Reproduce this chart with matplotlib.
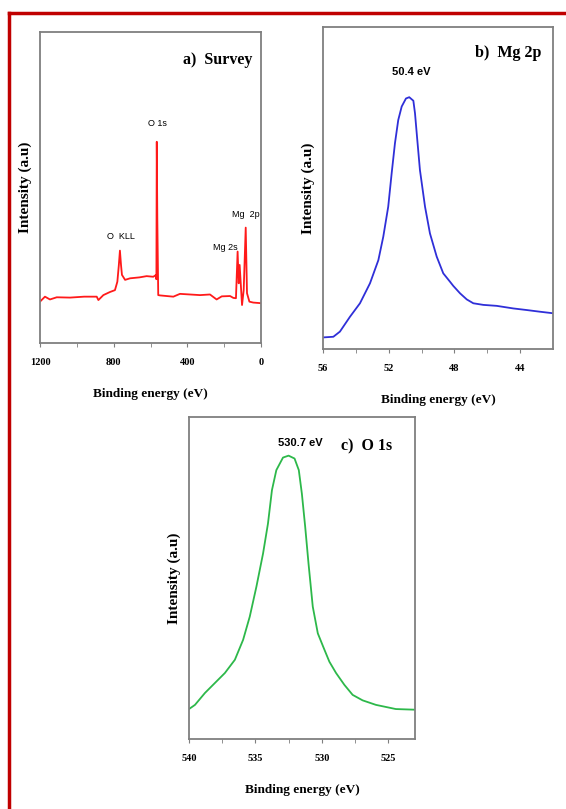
import numpy as np
import matplotlib
matplotlib.use("Agg")
import matplotlib.pyplot as plt
from matplotlib.lines import Line2D

# Survey spectrum (binding energy eV, intensity a.u.)
survey_be = [1200, 1173, 1146, 1109, 1037, 960, 892, 883, 856, 820, 793, 780,
             772, 766, 760, 755, 738, 711, 660, 621, 585, 572, 568, 566, 563,
             558, 548, 512, 476, 440, 331, 277, 241, 213, 168, 150, 136, 127,
             121, 116, 110, 103, 94, 83, 76, 63, 42, 0]
survey_int = [13.3, 14.9, 14.0, 14.7, 14.6, 14.9, 14.9, 13.8, 15.4, 16.4, 17.0, 19.7,
              25.0, 29.7, 25.0, 21.9, 20.3, 20.8, 21.1, 21.5, 21.3, 21.8, 20.5, 64.7, 40.0,
              15.4, 15.3, 15.1, 14.9, 15.8, 15.4, 15.6, 14.0, 15.0, 15.1, 14.5, 14.4, 29.4,
              19.2, 25.1, 19.2, 12.2, 17.0, 37.1, 16.0, 13.3, 13.0, 12.8]

# Mg 2p region
mg_be = [55.98, 55.37, 54.97, 54.36, 53.75, 53.14, 52.63, 52.33, 52.03, 51.82,
         51.62, 51.42, 51.21, 50.95, 50.75, 50.5, 50.4, 50.26, 50.1, 49.79, 49.49,
         49.08, 48.68, 48.27, 48.07, 47.66, 47.25, 46.85, 46.24, 45.43, 44.42,
         43.6, 42.83, 42.0]
mg_int = [3.6, 3.8, 5.4, 10.0, 14.2, 20.4, 27.6, 34.9, 44.2, 54.6,
          63.9, 71.1, 75.3, 77.8, 78.2, 77.1, 73.2, 64.9, 55.6, 44.2, 35.9,
          28.7, 23.5, 20.9, 19.6, 17.3, 15.4, 14.2, 13.7, 13.4, 12.6,
          12.1, 11.6, 11.1]

# O 1s region
o_be = [540.0, 539.55, 538.8, 538.05, 537.3, 536.55, 535.93, 535.43, 534.93,
        534.43, 534.06, 533.76, 533.43, 532.93, 532.51, 532.06, 531.74, 531.51,
        531.26, 531.01, 530.69, 530.31, 529.86, 529.44, 528.94, 528.31, 527.69,
        526.94, 525.94, 524.44, 523.0]
o_int = [9.3, 10.6, 14.3, 17.4, 20.5, 24.6, 30.8, 38.0, 47.3,
         57.6, 66.9, 77.3, 83.5, 87.4, 88.0, 87.1, 83.5, 76.2,
         65.9, 54.5, 41.1, 32.8, 28.2, 24.0, 20.5, 16.8, 13.7,
         12.0, 10.6, 9.3, 9.1]

serif = "Liberation Serif"
sans = "Liberation Sans"
spine_col = "#7f7f7f"

fig = plt.figure(figsize=(5.66, 8.09), dpi=100)

# red frame
fig.add_artist(Line2D([9 / 566, 1.0], [1 - 13 / 809] * 2, color="#c00000", lw=2.5))
fig.add_artist(Line2D([9 / 566] * 2, [0, 1 - 13 / 809], color="#c00000", lw=2.5))


def style(ax, xlim, major, minor):
    ax.set_xlim(*xlim)
    ax.set_ylim(0, 100)
    ax.set_yticks([])
    ax.set_xticks(major)
    ax.set_xticks(minor, minor=True)
    ax.tick_params(axis="x", which="both", direction="out", length=3,
                   color=spine_col, labelsize=7.5, pad=8)
    for lab in ax.get_xticklabels():
        lab.set_fontfamily(serif)
        lab.set_fontweight("bold")
    for s in ax.spines.values():
        s.set_color(spine_col)
        s.set_linewidth(1.3)
    ax.set_xlabel("Binding energy (eV)", fontfamily=serif, fontweight="bold",
                  fontsize=9.5, labelpad=15)
    ax.set_ylabel("Intensity (a.u)", fontfamily=serif, fontweight="bold",
                  fontsize=11, labelpad=6)


# a) survey
ax1 = fig.add_axes([40 / 566, 1 - 343 / 809, 221 / 566, 311 / 809])
ax1.plot(survey_be, survey_int, color="#ff1a1a", lw=1.3)
style(ax1, (1200, 0), [1200, 800, 400, 0], [1000, 600, 200])
ax1.text(0.96, 0.91, "a)  Survey", transform=ax1.transAxes, ha="right", va="center",
         fontfamily=serif, fontweight="bold", fontsize=11.5)
ax1.text(565, 70.6, "O 1s", ha="center", va="center", fontfamily=sans, fontsize=6.5)
ax1.text(761, 34.2, "O  KLL", ha="center", va="center", fontfamily=sans, fontsize=6.5)
ax1.text(125, 30.8, "Mg 2s", ha="right", va="center", fontfamily=sans, fontsize=6.5)
ax1.text(82, 41.2, "Mg  2p", ha="center", va="center", fontfamily=sans, fontsize=6.5)

# b) Mg 2p
ax2 = fig.add_axes([323 / 566, 1 - 349 / 809, 230 / 566, 322 / 809])
ax2.plot(mg_be, mg_int, color="#2f2fd8", lw=1.3)
style(ax2, (56, 42), [56, 52, 48, 44], [54, 50, 46])
ax2.text(0.95, 0.92, "b)  Mg 2p", transform=ax2.transAxes, ha="right", va="center",
         fontfamily=serif, fontweight="bold", fontsize=11.5)
ax2.text(50.6, 86, "50.4 eV", ha="center", va="center", fontfamily=sans,
         fontweight="bold", fontsize=8)

# c) O 1s
ax3 = fig.add_axes([189 / 566, 1 - 739 / 809, 226 / 566, 322 / 809])
ax3.plot(o_be, o_int, color="#2db84a", lw=1.3)
style(ax3, (540, 523), [540, 535, 530, 525], [537.5, 532.5, 527.5])
ax3.text(0.9, 0.91, "c)  O 1s", transform=ax3.transAxes, ha="right", va="center",
         fontfamily=serif, fontweight="bold", fontsize=11.5)
ax3.text(531.6, 92, "530.7 eV", ha="center", va="center", fontfamily=sans,
         fontweight="bold", fontsize=8)

fig.savefig("out.png", dpi=100)
